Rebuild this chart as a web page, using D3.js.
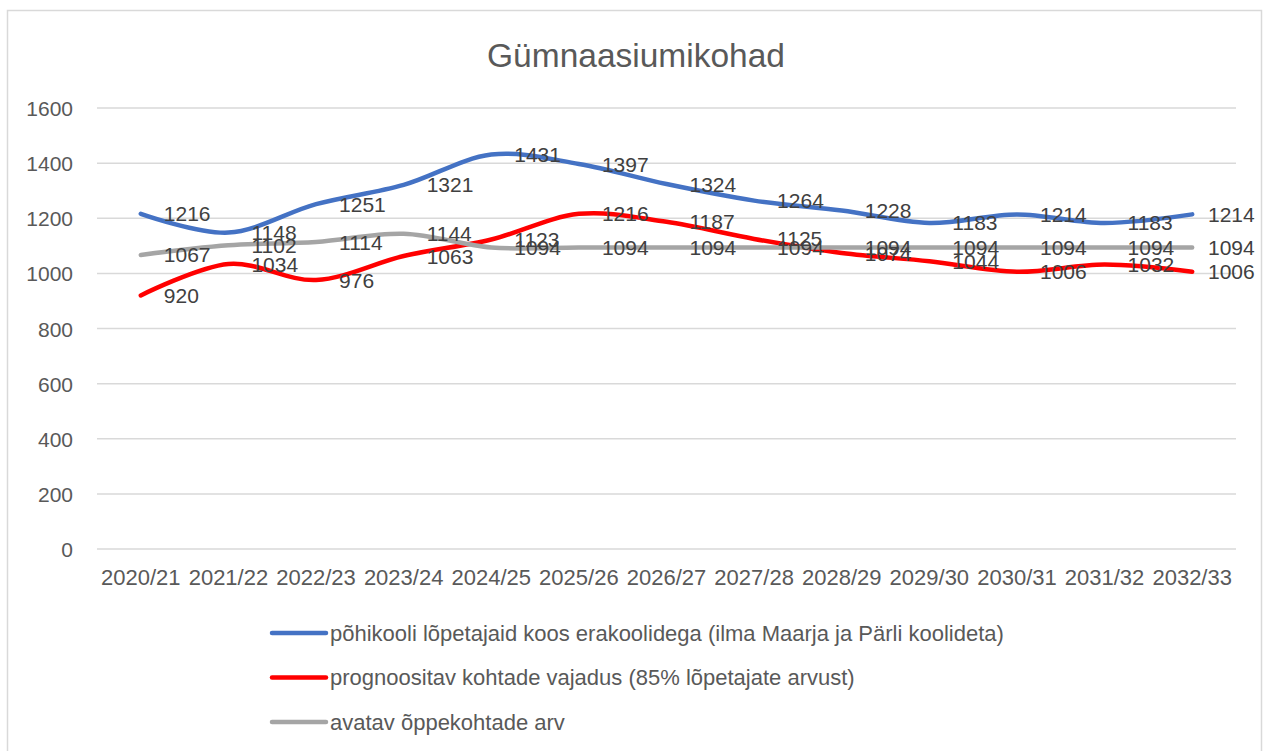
<!DOCTYPE html>
<html>
<head>
<meta charset="utf-8">
<script src="https://cdn.jsdelivr.net/npm/d3@7"></script>
<style>
  body { margin: 0; background: #fff; }
  text { font-family: "Liberation Sans", Arial, sans-serif; }
</style>
</head>
<body>
<svg width="1267" height="751"></svg>
<script>
// Gümnaasiumikohad - line chart
const years = ["2020/21", "2021/22", "2022/23", "2023/24", "2024/25", "2025/26", "2026/27",
               "2027/28", "2028/29", "2029/30", "2030/31", "2031/32", "2032/33"];
const graduates = [1216, 1148, 1251, 1321, 1431, 1397, 1324, 1264, 1228, 1183, 1214, 1183, 1214];
const demand = [920, 1034, 976, 1063, 1123, 1216, 1187, 1125, 1074, 1044, 1006, 1032, 1006];
const openPlaces = [1067, 1102, 1114, 1144, 1094, 1094, 1094, 1094, 1094, 1094, 1094, 1094, 1094];
const yTicks = [0, 200, 400, 600, 800, 1000, 1200, 1400, 1600];
const seriesNames = [
  "põhikooli lõpetajaid koos erakoolidega (ilma Maarja ja Pärli koolideta)",
  "prognoositav kohtade vajadus (85%  lõpetajate arvust)",
  "avatav õppekohtade arv"
];
const seriesColors = ["#4472c4", "#ff0000", "#a5a5a5"];

const series = [graduates, demand, openPlaces].map((vals, i) => ({
  name: seriesNames[i],
  color: seriesColors[i],
  values: vals
}));

const svg = d3.select("svg");

// chart frame
svg.append("rect")
  .attr("x", 7.5).attr("y", 10.5)
  .attr("width", 1254).attr("height", 750)
  .attr("fill", "#fff")
  .attr("stroke", "#d9d9d9")
  .attr("stroke-width", 1.5);

const plotLeft = 97, plotRight = 1236, plotTop = 108, plotBottom = 549;

const x = d3.scaleBand()
  .domain(years)
  .range([plotLeft, plotRight]);

const y = d3.scaleLinear()
  .domain([0, 1600])
  .range([plotBottom, plotTop]);

const cx = d => x(d) + x.bandwidth() / 2;

// title
svg.append("text")
  .attr("x", 636)
  .attr("y", 67)
  .attr("text-anchor", "middle")
  .attr("font-size", "33.5px")
  .attr("fill", "#595959")
  .text("Gümnaasiumikohad");

// gridlines
svg.append("g")
  .selectAll("line")
  .data(yTicks)
  .enter().append("line")
  .attr("x1", plotLeft).attr("x2", plotRight)
  .attr("y1", d => y(d)).attr("y2", d => y(d))
  .attr("stroke", "#d9d9d9")
  .attr("stroke-width", 1.5);

// Y axis labels
const yAxis = d3.axisLeft(y).tickValues(yTicks).tickFormat(d3.format("d")).tickSize(0).tickPadding(0);
svg.append("g")
  .attr("transform", "translate(73,0)")
  .call(yAxis)
  .call(g => g.select(".domain").remove())
  .selectAll("text")
    .attr("font-size", "21px")
    .attr("fill", "#595959")
    .attr("dy", "0.36em");

// X axis labels
const xAxis = d3.axisBottom(x).tickSize(0).tickPadding(0);
svg.append("g")
  .attr("transform", "translate(0,569)")
  .call(xAxis)
  .call(g => g.select(".domain").remove())
  .selectAll("text")
    .attr("font-size", "22px")
    .attr("fill", "#595959")
    .attr("dy", "0.71em");

// lines
const line = d3.line()
  .x((d, i) => cx(years[i]))
  .y(d => y(d))
  .curve(d3.curveCatmullRom.alpha(0));

svg.append("g")
  .selectAll("path")
  .data(series)
  .enter().append("path")
  .attr("d", d => line(d.values))
  .attr("fill", "none")
  .attr("stroke", d => d.color)
  .attr("stroke-width", 4.5)
  .attr("stroke-linecap", "round")
  .attr("stroke-linejoin", "round");

// data labels (to the right of each point)
series.forEach(s => {
  svg.append("g")
    .selectAll("text")
    .data(s.values)
    .enter().append("text")
    .attr("x", (d, i) => Math.min(cx(years[i]) + 23, 1208))
    .attr("y", d => y(d))
    .attr("dy", "0.36em")
    .attr("font-size", "21px")
    .attr("fill", "#404040")
    .text(d => d);
});

// legend
const legend = svg.append("g")
  .selectAll("g")
  .data(series)
  .enter().append("g")
  .attr("transform", (d, i) => `translate(270, ${633 + i * 44.5})`);

legend.append("line")
  .attr("x1", 2).attr("x2", 56)
  .attr("stroke", d => d.color)
  .attr("stroke-width", 4.5)
  .attr("stroke-linecap", "round");

legend.append("text")
  .attr("x", 60)
  .attr("dy", "0.36em")
  .attr("font-size", "22px")
  .attr("fill", "#595959")
  .text(d => d.name);
</script>
</body>
</html>
